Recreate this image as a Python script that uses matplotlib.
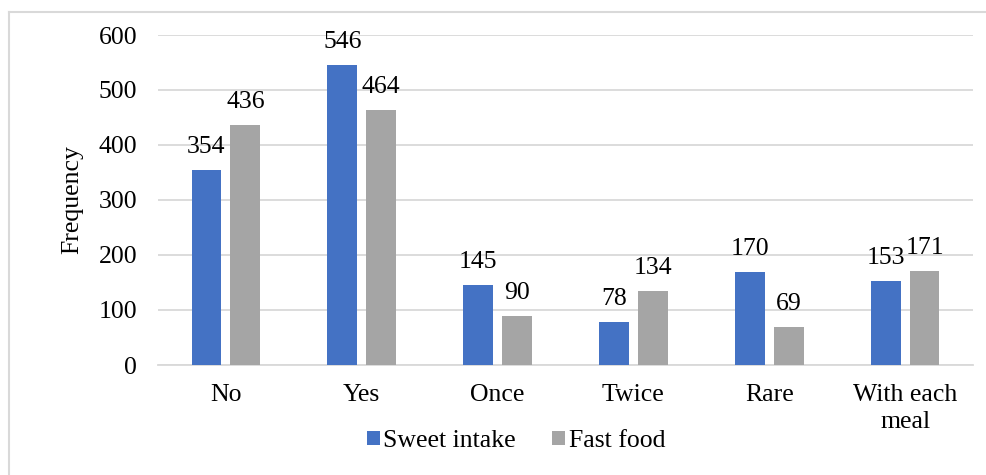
import matplotlib
matplotlib.use("Agg")
import matplotlib.pyplot as plt
from matplotlib.lines import Line2D
import numpy as np

categories = ["No", "Yes", "Once", "Twice", "Rare", "With each\nmeal"]
sweet_intake = [354, 546, 145, 78, 170, 153]
fast_food = [436, 464, 90, 134, 69, 171]
yticks = [0, 100, 200, 300, 400, 500, 600]

plt.rcParams['font.family'] = ['Liberation Serif', 'DejaVu Serif']

FS = 18.5
W, H = 987, 475
fig = plt.figure(figsize=(W / 100, H / 100), dpi=100)
ax = fig.add_axes([158 / W, 1 - 365 / H, (973 - 158) / W, (365 - 35) / H])

x = np.arange(len(categories))
bw = 0.22
gap = 0.066
off = (bw + gap) / 2
blue = "#4472C4"
gray = "#A5A5A5"
b1 = ax.bar(x - off, sweet_intake, bw, color=blue, label="Sweet intake", zorder=3)
b2 = ax.bar(x + off, fast_food, bw, color=gray, label="Fast food", zorder=3)

for bars in (b1, b2):
    for r in bars:
        ax.annotate(f"{int(r.get_height())}", (r.get_x() + r.get_width() / 2, r.get_height()),
                    xytext=(0, 8.5), textcoords="offset points", ha="center", va="bottom",
                    fontsize=FS, color="#000000")

ax.set_xlim(-0.5, len(categories) - 0.5)
ax.set_ylim(0, 600)
ax.set_yticks(yticks)
ax.set_xticks(x)
ax.set_xticklabels(categories, fontsize=FS, linespacing=1.25)
ax.tick_params(axis="y", labelsize=FS, length=0, pad=15)
ax.tick_params(axis="x", length=0, pad=14)
ax.grid(axis="y", color="#D9D9D9", linewidth=1.3, zorder=0)
for s in ["top", "right", "left"]:
    ax.spines[s].set_visible(False)
ax.spines["bottom"].set_color("#D9D9D9")
ax.spines["bottom"].set_linewidth(1.3)
ax.set_ylabel("Frequency", fontsize=FS, labelpad=11)

leg = fig.legend(handles=[b1, b2], labels=["Sweet intake", "Fast food"], loc="center",
                 bbox_to_anchor=(516 / W, 1 - 441 / H), ncol=2, frameon=False, fontsize=FS,
                 handlelength=0.5, handleheight=0.5, handletextpad=0.15, columnspacing=1.4)

fig.add_artist(Line2D([9 / W, 1], [1 - 12 / H, 1 - 12 / H], color="#D9D9D9", linewidth=1.5,
                      transform=fig.transFigure))
fig.add_artist(Line2D([9 / W, 9 / W], [0, 1 - 12 / H], color="#D9D9D9", linewidth=1.5,
                      transform=fig.transFigure))

fig.savefig("out.png", dpi=100)
